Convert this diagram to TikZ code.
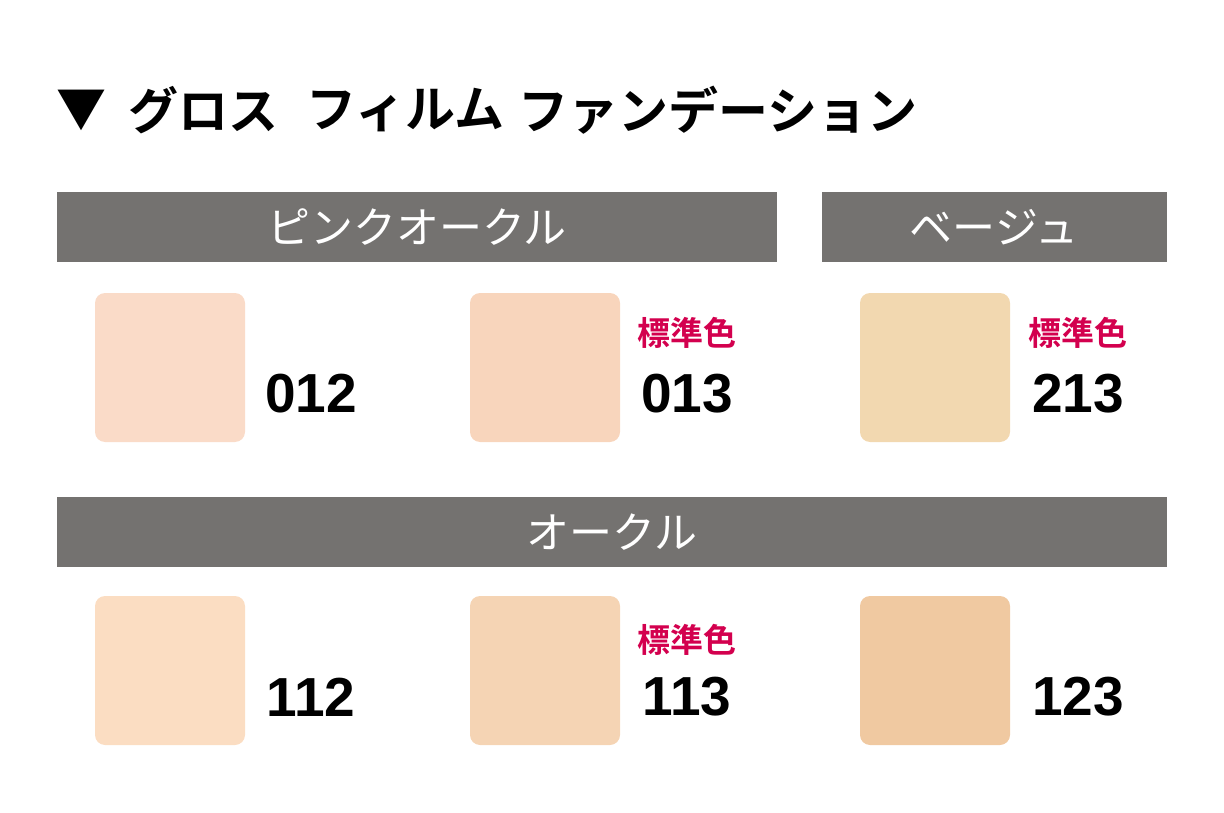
\documentclass[tikz,border=0pt]{standalone}
\usepackage{fontspec}
\newfontfamily\jpb{Noto Sans CJK JP Bold}
\newfontfamily\jp{Noto Sans CJK JP}
\newfontfamily\num{Liberation Sans}
\definecolor{bar}{HTML}{747270}
\definecolor{stdred}{HTML}{D3004E}
\definecolor{c012}{HTML}{FADBC8}
\definecolor{c013}{HTML}{F8D5BC}
\definecolor{c213}{HTML}{F2D8B0}
\definecolor{c112}{HTML}{FBDDC2}
\definecolor{c113}{HTML}{F5D4B4}
\definecolor{c123}{HTML}{F0C9A1}
\tikzset{
 barbox/.style={fill=bar,draw=none},
 bartext/.style={text=white,font=\jp\fontsize{43}{46}\selectfont},
 sw/.style={draw=none,rounded corners=10pt},
 numtext/.style={font=\num\bfseries\fontsize{55}{58}\selectfont},
 std/.style={text=stdred,font=\jpb\fontsize{33}{36}\selectfont},
 ttl/.style={anchor=west,inner sep=0,font=\jpb\fontsize{50}{54}\selectfont}
}
\begin{document}
\begin{tikzpicture}[x=1pt,y=-1pt]
\useasboundingbox (0,0) rectangle (1224,813);
\node[ttl] (tri) at (56,110) {▼};
\node[ttl] (t1) at (128,110) {グロス};
\node[ttl] (t2) at (306,110) {フィルム};
\node[ttl] (t3) at (518,110) {ファンデーション};
\fill[barbox] (57,192) rectangle (777,262);
\node[bartext] (b1) at (417,227) {ピンクオークル};
\fill[barbox] (822,192) rectangle (1167,262);
\node[bartext] (b2) at (994,227) {ベージュ};
\fill[barbox] (57,497) rectangle (1167,567);
\node[bartext] (b3) at (612,532) {オークル};
\fill[sw,fill=c012] (95,293) rectangle (245,442);
\fill[sw,fill=c013] (470,293) rectangle (620,442);
\fill[sw,fill=c213] (860,293) rectangle (1010,442);
\fill[sw,fill=c112] (95,596) rectangle (245,745);
\fill[sw,fill=c113] (470,596) rectangle (620,745);
\fill[sw,fill=c123] (860,596) rectangle (1010,745);
\node[numtext] (n012) at (311,394) {012};
\node[numtext] (n013) at (687,394) {013};
\node[numtext] (n213) at (1078,394) {213};
\node[numtext] (n112) at (311,697) {112};
\node[numtext] (n113) at (687,697) {113};
\node[numtext] (n123) at (1078,697) {123};
\node[std] (s1) at (687,333) {標準色};
\node[std] (s2) at (1078,333) {標準色};
\node[std] (s3) at (687,640) {標準色};
\end{tikzpicture}
\end{document}
